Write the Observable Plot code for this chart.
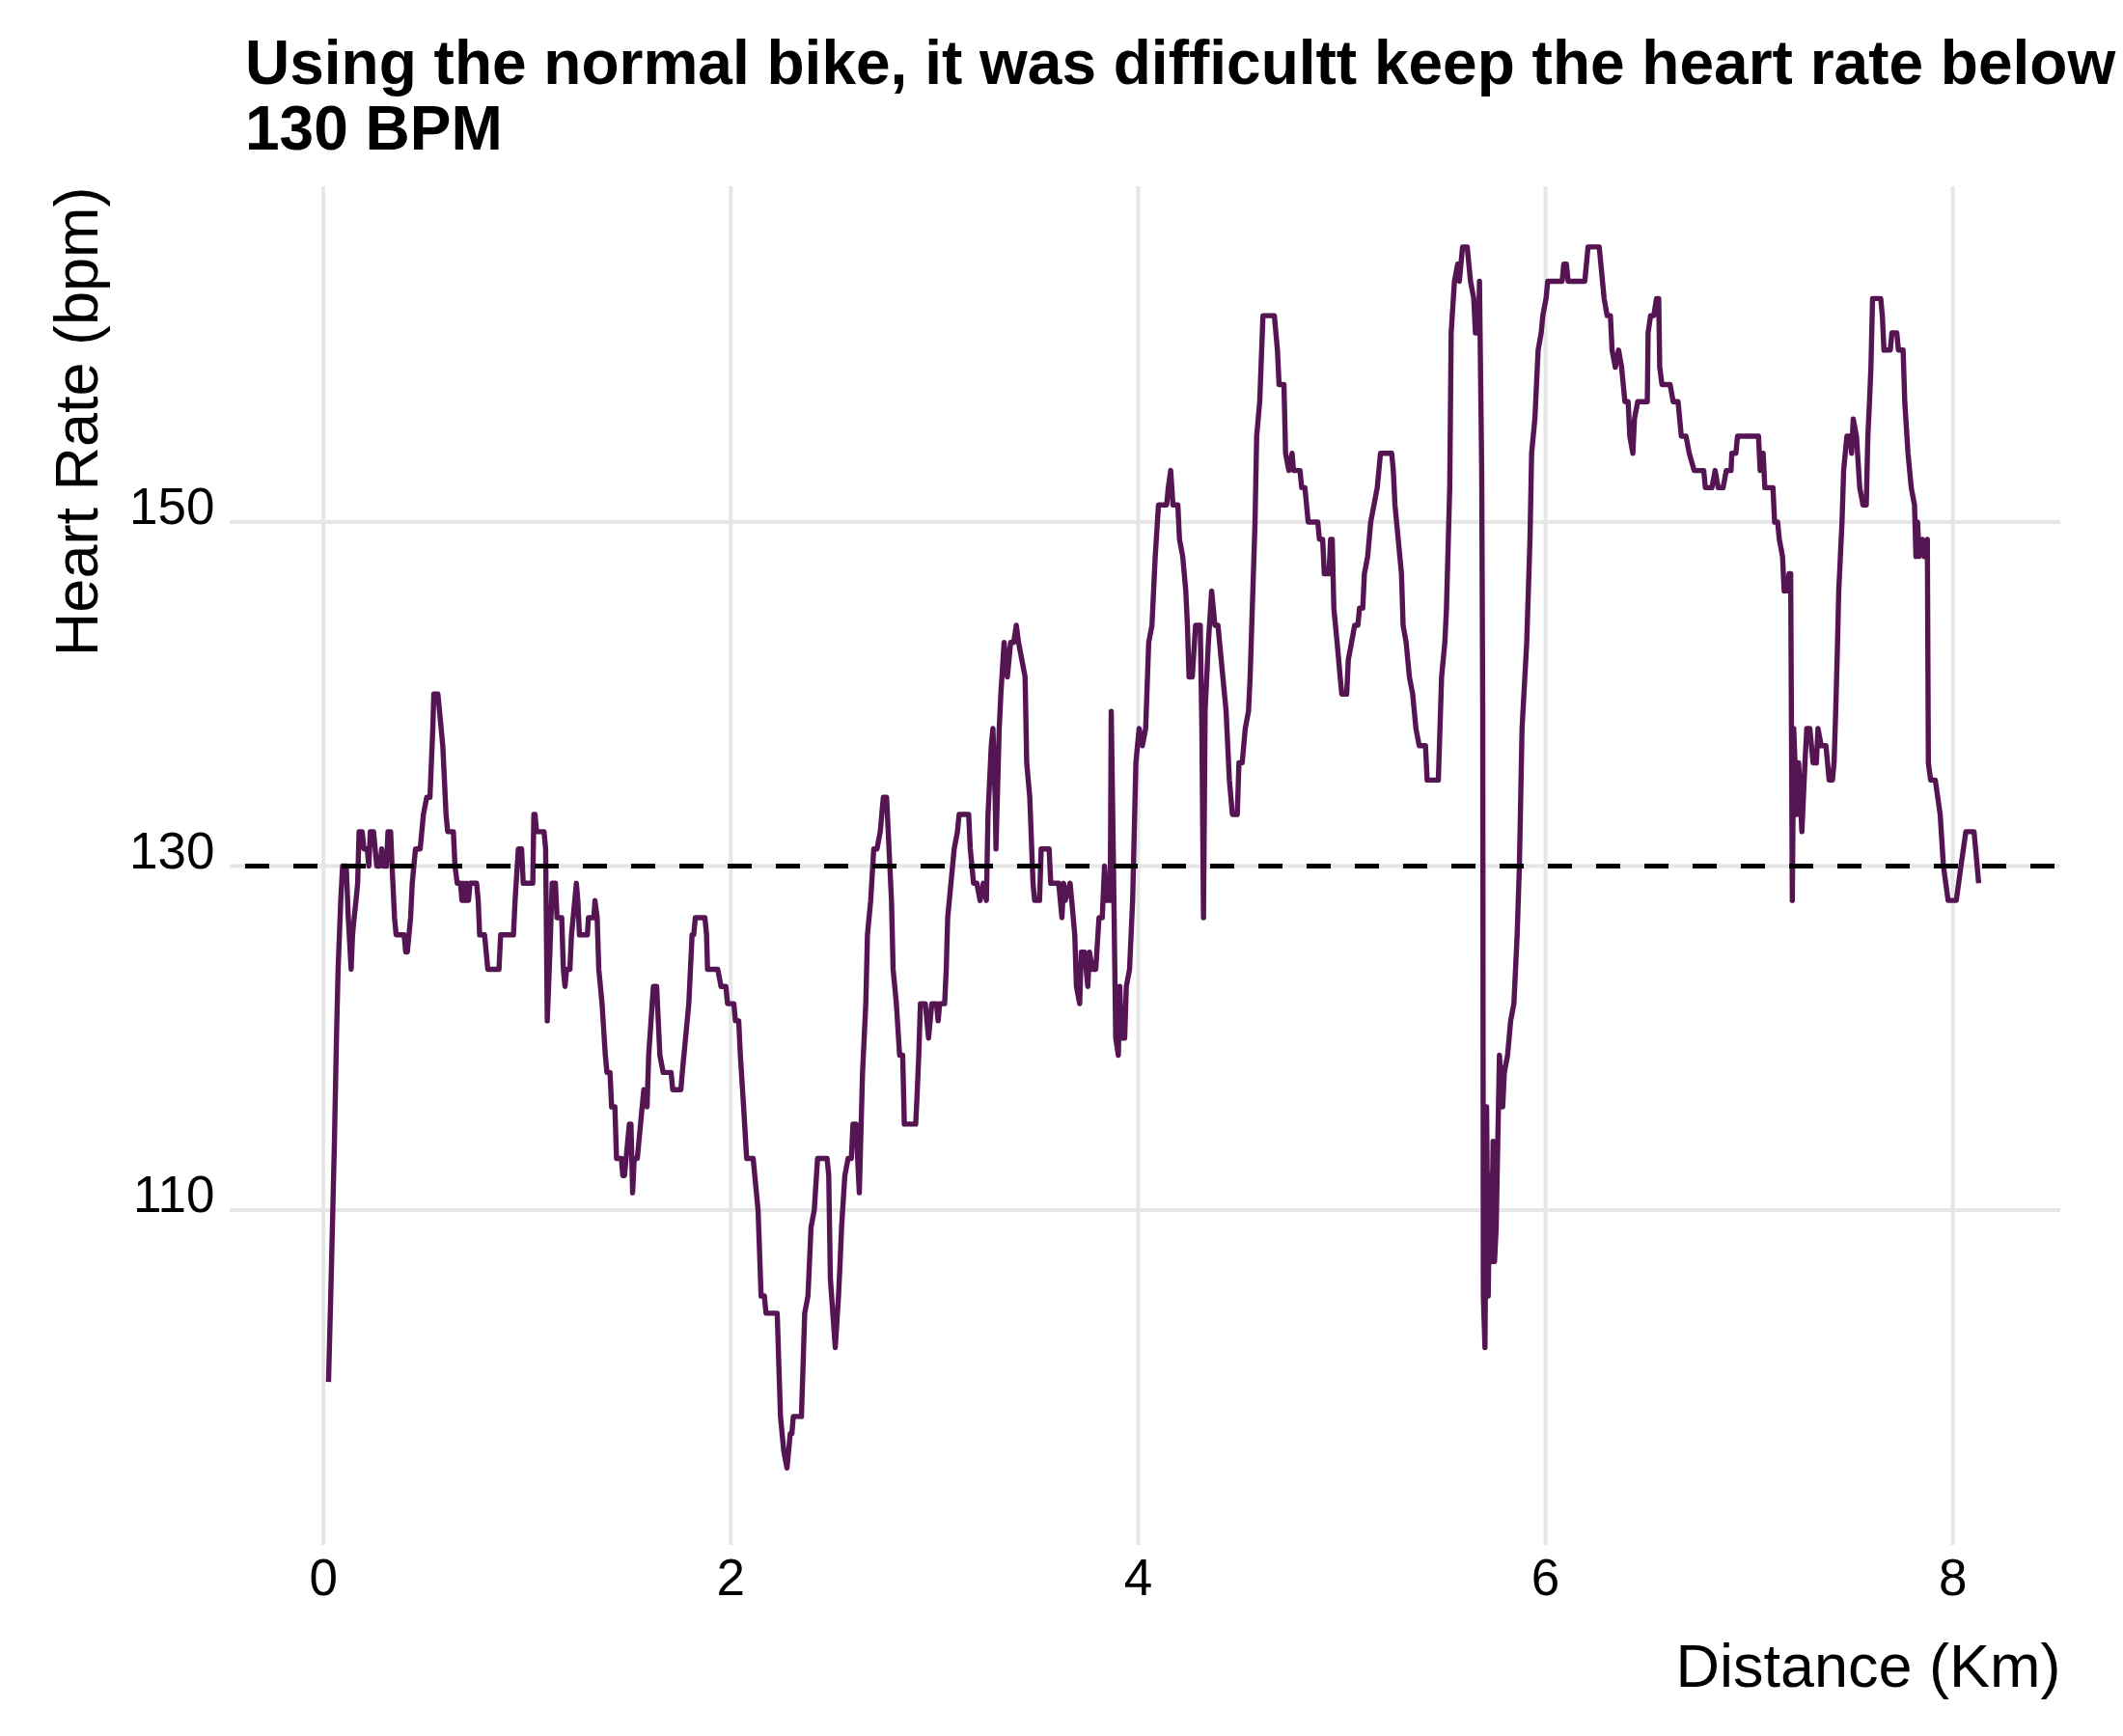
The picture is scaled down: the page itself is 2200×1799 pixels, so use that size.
<!DOCTYPE html>
<html><head><meta charset="utf-8">
<script src="https://cdn.jsdelivr.net/npm/d3@7"></script>
<script src="https://cdn.jsdelivr.net/npm/@observablehq/plot@0.6"></script>
<style>
html,body{margin:0;padding:0;background:#fff;overflow:hidden;}
#title{font-family:'Liberation Sans',Arial,Helvetica,sans-serif;font-weight:bold;font-size:64px;line-height:68px;padding:31px 0 0 254px;height:180px;box-sizing:border-box;white-space:nowrap;color:#000;}
#chart svg{display:block;}
</style></head><body>
<div id="title">Using the normal bike, it was difficultt keep the heart rate below<br>130 BPM</div>
<div id="chart"></div>
<script>
const distanceKm = [
0.025,0.038,0.054,0.064,0.072,0.085,0.094,0.112,0.122,0.136,0.143,0.151,0.160,0.168,0.175,0.190,0.199,0.215,0.223,0.230,
0.246,0.254,0.262,0.278,0.286,0.294,0.309,0.317,0.330,0.337,0.345,0.349,0.357,0.396,0.404,0.412,0.420,0.428,0.436,0.444,
0.452,0.475,0.483,0.491,0.507,0.523,0.530,0.537,0.542,0.562,0.570,0.586,0.594,0.602,0.610,0.638,0.646,0.657,0.673,0.680,
0.688,0.696,0.704,0.712,0.720,0.752,0.760,0.767,0.791,0.799,0.807,0.862,0.870,0.933,0.941,0.957,0.973,0.981,1.028,1.033,
1.039,1.046,1.083,
1.091,1.099,1.112,1.123,1.139,1.147,1.170,1.178,1.186,1.194,1.210,1.218,1.226,1.242,1.249,1.257,1.296,1.301,1.328,1.333,
1.344,1.352,1.368,1.384,1.392,1.407,1.415,1.431,1.439,1.463,1.470,1.478,1.486,1.502,1.510,1.518,1.526,1.541,1.549,1.565,
1.573,1.589,1.597,1.620,1.636,1.644,1.652,1.668,1.707,1.715,1.755,1.762,1.778,1.794,1.810,1.818,1.826,1.873,1.881,1.886,
1.936,1.952,1.976,1.984,2.015,2.023,2.039,2.047,2.063,2.078,
2.110,2.134,2.149,2.165,2.173,2.228,2.244,2.260,2.276,2.292,2.300,2.307,2.347,2.363,2.379,2.394,2.410,2.426,2.473,2.481,
2.489,2.513,2.529,2.537,2.544,2.560,2.576,2.592,2.600,2.615,2.631,2.647,2.663,2.671,2.687,2.702,2.718,2.734,2.749,2.765,
2.773,2.789,2.797,2.813,2.829,2.844,2.852,2.908,2.916,2.923,2.931,2.955,2.971,2.979,2.987,3.010,3.018,3.026,3.050,3.058,
3.065,3.081,3.097,3.113,3.121,
3.168,3.176,3.192,3.208,3.224,3.240,3.255,3.263,3.279,3.287,3.298,3.302,3.318,3.326,3.342,3.358,3.374,3.389,3.402,3.413,
3.429,3.445,3.453,3.468,3.484,3.492,3.516,3.524,3.563,3.571,3.610,3.626,3.634,3.642,3.666,3.674,3.689,3.697,3.713,3.721,
3.737,3.753,3.761,3.776,3.792,3.808,3.824,3.835,3.847,3.863,3.868,3.879,3.890,3.903,3.910,3.918,3.934,3.942,3.958,3.973,
3.989,4.005,4.021,4.037,4.052,4.068,4.084,4.100,4.140,4.148,4.160,4.171,
4.179,4.195,4.203,4.219,4.234,4.242,4.250,4.266,4.282,4.305,4.313,4.321,4.329,4.345,4.361,4.377,4.392,4.408,4.424,4.432,
4.448,4.463,4.487,4.495,4.511,4.526,4.542,4.550,4.566,4.574,4.582,4.597,4.613,4.669,4.684,4.692,4.716,4.724,4.740,4.756,
4.763,4.795,4.803,4.819,4.827,4.835,4.882,4.890,4.906,4.914,4.937,4.945,4.953,4.961,4.977,4.992,5.000,5.024,5.032,5.048,
5.063,5.079,5.087,5.103,5.111,5.127,5.142,5.158,5.174,5.190,5.245,
5.253,5.261,5.277,5.293,5.301,5.316,5.332,5.348,5.364,5.380,5.411,5.419,5.474,5.490,5.506,5.514,5.530,5.537,5.553,5.569,
5.577,5.593,5.616,5.632,5.648,5.656,5.672,5.676,5.687,5.692,5.695,5.703,5.711,5.719,5.727,5.735,5.743,5.750,5.758,5.774,
5.790,5.798,5.814,5.829,5.845,5.861,5.872,5.885,5.908,5.924,5.932,5.948,5.964,5.979,5.987,6.003,6.011,6.082,6.090,6.103,
6.111,6.193,6.209,6.264,
6.272,6.288,6.303,6.319,6.327,6.343,6.359,6.374,6.382,6.390,6.406,6.414,6.429,6.437,6.453,6.500,6.504,6.516,6.532,6.545,
6.556,6.561,6.572,6.612,6.627,6.651,6.667,6.690,6.706,6.730,6.777,6.785,6.817,6.833,6.848,6.872,6.888,6.911,6.915,6.935,
6.943,7.046,7.054,7.069,7.077,7.117,7.125,7.140,7.148,7.164,7.172,7.188,7.196,7.204,7.212,7.219,7.235,7.243,7.259,7.274,
7.283,
7.298,7.314,7.330,7.338,7.354,7.377,7.385,7.393,7.409,7.417,7.425,7.432,7.440,7.448,7.456,7.464,7.472,7.480,7.496,7.503,
7.511,7.527,7.543,7.559,7.575,7.583,7.591,7.598,7.606,7.646,7.654,7.662,7.693,7.701,7.725,7.733,7.756,7.764,7.780,7.796,
7.812,7.819,7.827,7.835,7.851,7.859,7.875,7.880,7.891,7.914,7.938,7.954,7.977,8.017,8.040,8.064,8.104,8.112,8.127
];
const heartRate = [
100,106,114,120,124,128,130,130,127,124,126,127,128,129,132,132,131,131,130,132,
132,131,130,130,131,130,130,132,132,130,128,127,126,126,125,125,126,127,129,130,
131,131,132,133,134,134,136,138,140,140,139,137,135,133,132,132,130,129,129,128,
129,128,129,128,129,129,128,126,126,125,124,124,126,126,128,131,131,129,129,133,
133,132,132,
131,121,125,129,129,127,127,124,123,124,124,126,127,129,128,126,126,127,127,128,
127,124,122,119,118,118,116,116,113,113,112,112,113,115,115,111,113,113,114,116,
117,116,119,123,123,121,119,118,118,117,117,118,120,122,126,126,127,127,126,124,
124,123,123,122,122,121,121,119,116,113,
113,110,105,105,104,104,98,96,95,97,97,98,98,104,105,109,110,113,113,112,
106,102,105,107,109,112,113,113,115,115,111,118,122,126,128,131,131,132,134,134,
132,128,124,122,119,119,115,115,117,119,122,122,120,121,122,122,121,122,122,124,
127,129,131,132,133,
133,131,129,129,128,129,128,133,137,138,134,131,138,140,143,141,143,143,144,143,
142,141,136,134,129,128,128,131,131,129,129,127,129,128,129,128,126,123,122,125,
125,123,125,124,124,127,127,130,128,128,139,130,120,119,123,120,120,123,124,128,
136,138,137,138,143,144,148,151,151,152,153,151,
151,151,149,148,146,144,141,141,144,144,138,127,139,143,146,144,144,142,140,139,
135,133,133,136,136,138,139,141,147,150,155,157,162,162,160,158,158,154,153,154,
153,153,152,152,151,150,150,149,149,147,147,149,149,145,143,141,140,140,142,143,
144,144,145,145,147,148,150,151,152,154,154,
153,151,149,147,144,143,141,140,138,137,137,135,135,141,143,145,152,161,164,165,
164,166,166,164,163,161,161,164,153,139,105,102,116,105,112,107,114,107,109,119,
116,118,119,121,122,126,130,138,143,149,154,156,160,161,162,163,164,164,165,165,
164,164,166,166,
165,163,162,162,160,159,160,159,158,157,157,155,154,156,157,157,161,162,162,163,
163,159,158,158,157,157,155,155,154,153,153,152,152,153,152,152,153,153,154,154,
155,155,153,154,152,152,150,150,149,148,146,146,147,147,128,138,133,136,132,136,
138,
138,136,136,138,137,137,136,135,135,136,139,142,146,148,150,153,154,155,155,154,
156,155,152,151,151,155,157,159,163,163,162,160,160,161,161,160,160,157,154,152,
151,148,150,148,149,148,149,136,135,135,133,130,128,128,130,132,132,131,129
];
const xTicks = [0, 2, 4, 6, 8];
const yTicks = [110, 130, 150];
const threshold = [130];
const xTitle = ["Distance (Km)"];
const yTitle = ["Heart Rate (bpm)"];

const rows = distanceKm.map((d, i) => ({distance: d, hr: heartRate[i]}));
const grid = {stroke: "#e6e6e6", strokeWidth: 4, strokeOpacity: 1};
const fmt = d => String(d);

const chart = Plot.plot({
  width: 2200,
  height: 1619,
  marginTop: 13,
  marginBottom: 198,
  marginLeft: 238,
  marginRight: 65,
  style: {fontFamily: "'Liberation Sans', Arial, Helvetica, sans-serif", fontSize: "53px", background: "#fff", color: "#000", overflow: "visible"},
  x: {domain: [-0.458, 8.53]},
  y: {domain: [90.5, 169.5]},
  marks: [
    Plot.gridX(xTicks, grid),
    Plot.gridY(yTicks, grid),
    Plot.line(rows, {x: "distance", y: "hr", stroke: "#551452", strokeWidth: 5.4, strokeLinejoin: "round", strokeLinecap: "butt"}),
    Plot.ruleY(threshold, {stroke: "#000", strokeWidth: 4.8, strokeDasharray: "25,25", strokeDashoffset: 34}),
    Plot.axisX(xTicks, {tickSize: 0, tickPadding: 14, fontSize: 53, fill: "#000", label: null, tickFormat: fmt}),
    Plot.axisY(yTicks, {tickSize: 0, tickPadding: 16, fontSize: 53, fill: "#000", label: null, tickFormat: fmt, lineAnchor: "bottom", dy: 2}),
    Plot.text(yTitle, {text: d => d, frameAnchor: "top-left", rotate: -90, textAnchor: "end", lineAnchor: "bottom", dx: -138, dy: 0, fontSize: 63, fill: "#000"}),
    Plot.text(xTitle, {text: d => d, frameAnchor: "bottom-right", textAnchor: "end", lineAnchor: "bottom", dy: 146, fontSize: 63, fill: "#000"})
  ]
});
document.getElementById("chart").appendChild(chart);
</script>
</body></html>
